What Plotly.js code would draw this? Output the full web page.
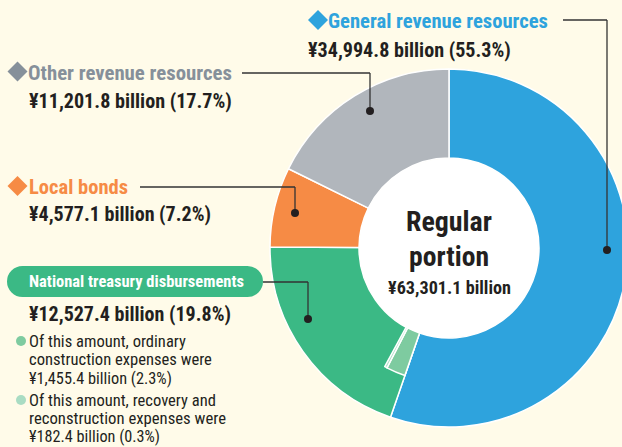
<!DOCTYPE html>
<html>
<head>
<meta charset="utf-8">
<script src="https://cdn.plot.ly/plotly-3.0.1.min.js"></script>
<style>
html,body{margin:0;padding:0;overflow:hidden;background:#fffbe9;width:622px;height:447px;}
#chart{width:640px;height:447px;}
</style>
</head>
<body>
<div id="chart"></div>
<script>
// ---- data ----
const categories = ['General revenue resources', 'National treasury disbursements', 'Local bonds', 'Other revenue resources'];
const amounts = [34994.8, 12527.4, 4577.1, 11201.8];
const shares = [55.3, 19.8, 7.2, 17.7];
const subItems = ['ordinary construction expenses', 'recovery and reconstruction expenses'];
const subAmounts = [1455.4, 182.4];
const subShares = [2.3, 0.3];
const totalLabel = 'Regular portion';
const totalAmount = 63301.1;

// ---- style ----
const colors = ['#2ea3dd', '#3bb985', '#f68b45', '#b1b6bc'];
const subColors = ['#7ecba0', '#a9dcc3'];
const textColors = ['#2ea3dd', '#ffffff', '#f68b45', '#86909a'];
const W = 640, H = 447;
const ink = '#231f20';
const px = x => x / W;
const py = y => 1 - y / H;
const fmt = v => '¥' + v.toLocaleString('en-US', {minimumFractionDigits: 1, maximumFractionDigits: 1}) + ' billion';

// pick the narrowest available sans family
const cvs = document.createElement('canvas').getContext('2d');
function avail(f) {
  const s = 'mmmmmmwwwwwlliiIIi0123';
  cvs.font = '40px monospace'; const a = cvs.measureText(s).width;
  cvs.font = '40px "' + f + '", monospace'; const b = cvs.measureText(s).width;
  cvs.font = '40px serif'; const c = cvs.measureText(s).width;
  cvs.font = '40px "' + f + '", serif'; const d = cvs.measureText(s).width;
  return a !== b || c !== d;
}
const candidates = ['Roboto Condensed', 'Liberation Sans Narrow', 'Arial Narrow', 'Open Sans Condensed', 'DejaVu Sans Condensed', 'Roboto'];
let fam = 'Roboto';
for (const c of candidates) { if (avail(c)) { fam = c; break; } }
const FONT = '"' + fam + '", sans-serif';
function fitSize(text, bold, width, maxSize) {
  cvs.font = (bold ? 'bold ' : '') + '100px ' + FONT;
  const w = cvs.measureText(text).width;
  return Math.min(maxSize, 100 * width / w);
}

const cx = 449, cy = 248, R = 179, r = 90, rs = 135;
const dom = rad => ({x: [px(cx - rad), px(cx + rad)], y: [py(cy + rad), py(cy - rad)]});

const main = {
  type: 'pie', labels: categories, values: shares, sort: false, direction: 'clockwise', rotation: 0,
  hole: r / R, domain: dom(R), textinfo: 'none', hoverinfo: 'label+percent', showlegend: false,
  marker: {colors: colors, line: {color: '#ffffff', width: 1.5}}
};
const before = shares[0];
const after = 100 - before - subShares[0] - subShares[1];
const sub = {
  type: 'pie', labels: ['_a', subItems[0], subItems[1], '_b'],
  values: [before, subShares[0], subShares[1], after], sort: false, direction: 'clockwise', rotation: 0,
  hole: r / rs, domain: dom(rs), textinfo: 'none', hoverinfo: 'skip', showlegend: false,
  marker: {colors: ['rgba(0,0,0,0)', subColors[0], subColors[1], 'rgba(0,0,0,0)'],
           line: {color: ['rgba(0,0,0,0)', '#ffffff', '#ffffff', 'rgba(0,0,0,0)'], width: [0, 1.5, 1.5, 0]}}
};
const centre = {
  type: 'pie', labels: ['centre'], values: [1], domain: dom(r - 0.5), textinfo: 'none', hoverinfo: 'skip',
  showlegend: false, sort: false, marker: {colors: ['#ffffff'], line: {width: 0}}
};

const ann = [];
function txt(x, y, text, width, maxSize, color, bold, anchor) {
  const size = fitSize(text, bold, width, maxSize);
  ann.push({xref: 'paper', yref: 'paper', x: px(anchor ? x : x - 1), y: py(y), text: text, showarrow: false,
    xanchor: anchor || 'left', yanchor: 'middle', borderpad: 0, borderwidth: 0,
    font: {family: FONT, size: size, color: color, weight: bold ? 'bold' : 'normal'}});
}
const shapes = [];
function diamond(x, y, h, color) {
  const p = 'M' + px(x - h) + ',' + py(y) + ' L' + px(x) + ',' + py(y - h) + ' L' + px(x + h) + ',' + py(y) +
            ' L' + px(x) + ',' + py(y + h) + ' Z';
  shapes.push({type: 'path', xref: 'paper', yref: 'paper', path: p, fillcolor: color, line: {width: 0}});
}
const pct = s => ' (' + s.toFixed(1) + '%)';
diamond(318, 20, 10, colors[0]);
txt(329, 21, categories[0], 220, 26, textColors[0], true);
txt(309, 50, fmt(amounts[0]) + pct(shares[0]), 203, 24, ink, true);
diamond(17.5, 71.5, 10, textColors[3]);
txt(29, 72.5, categories[3], 204, 26, textColors[3], true);
txt(30, 101, fmt(amounts[3]) + pct(shares[3]), 203, 24, ink, true);
diamond(17.5, 186, 10, colors[2]);
txt(30, 186.5, categories[2], 99, 26, textColors[2], true);
txt(30, 214, fmt(amounts[2]) + pct(shares[2]), 182, 24, ink, true);
txt(30, 281, categories[1], 215, 22, textColors[1], true);
txt(30, 314, fmt(amounts[1]) + pct(shares[1]), 202, 24, ink, true);
txt(30, 341, 'Of this amount, ' + subItems[0].split(' ')[0], 157, 19, ink, false);
txt(30, 359, subItems[0].split(' ').slice(1).join(' ') + ' were', 183, 19, ink, false);
txt(30, 378, fmt(subAmounts[0]) + pct(subShares[0]), 143, 19, ink, false);
txt(30, 400, 'Of this amount, ' + subItems[1].split(' ').slice(0, 2).join(' '), 187, 19, ink, false);
txt(30, 418, subItems[1].split(' ').slice(2).join(' ') + ' were', 197, 19, ink, false);
txt(30, 436, fmt(subAmounts[1]) + pct(subShares[1]), 131, 19, ink, false);
txt(cx, 221, totalLabel.split(' ')[0], 86, 32, ink, true, 'center');
txt(cx, 256, totalLabel.split(' ')[1], 80, 32, ink, true, 'center');
txt(cx, 287, fmt(totalAmount), 123, 22, ink, true, 'center');

const lineC = '#333333';
function seg(x0, y0, x1, y1) {
  shapes.push({type: 'line', xref: 'paper', yref: 'paper', x0: px(x0), y0: py(y0), x1: px(x1), y1: py(y1),
    line: {color: lineC, width: 1.3}});
}
function dot(x, y, rad, color) {
  shapes.push({type: 'circle', xref: 'paper', yref: 'paper', x0: px(x - rad), x1: px(x + rad), y0: py(y + rad), y1: py(y - rad),
    fillcolor: color, line: {width: 0}});
}
shapes.push({type: 'rect', xref: 'paper', yref: 'paper', x0: px(23), x1: px(248), y0: py(297), y1: py(266),
  fillcolor: colors[1], line: {width: 0}, layer: 'below'});
shapes.push({type: 'circle', xref: 'paper', yref: 'paper', x0: px(7), x1: px(38), y0: py(297), y1: py(266),
  fillcolor: colors[1], line: {width: 0}, layer: 'below'});
shapes.push({type: 'circle', xref: 'paper', yref: 'paper', x0: px(232), x1: px(263), y0: py(297), y1: py(266),
  fillcolor: colors[1], line: {width: 0}, layer: 'below'});
seg(563, 20, 607, 20); seg(607, 20, 607, 250); dot(607, 250, 4, '#231f20');
seg(242, 73, 370, 73); seg(370, 73, 370, 111); dot(370, 111, 4, '#231f20');
seg(140, 187, 295, 187); seg(295, 187, 295, 213); dot(295, 213, 4, '#231f20');
seg(263, 282, 308, 282); seg(308, 282, 308, 319); dot(308, 319, 4, '#231f20');
dot(21, 341, 5, subColors[0]);
dot(21, 400, 5, subColors[1]);

Plotly.newPlot('chart', [main, sub, centre], {
  width: W, height: H, margin: {l: 0, r: 0, t: 0, b: 0},
  paper_bgcolor: '#fffbe9', plot_bgcolor: '#fffbe9',
  annotations: ann, shapes: shapes
}, {displayModeBar: false, staticPlot: true});
</script>
</body>
</html>
